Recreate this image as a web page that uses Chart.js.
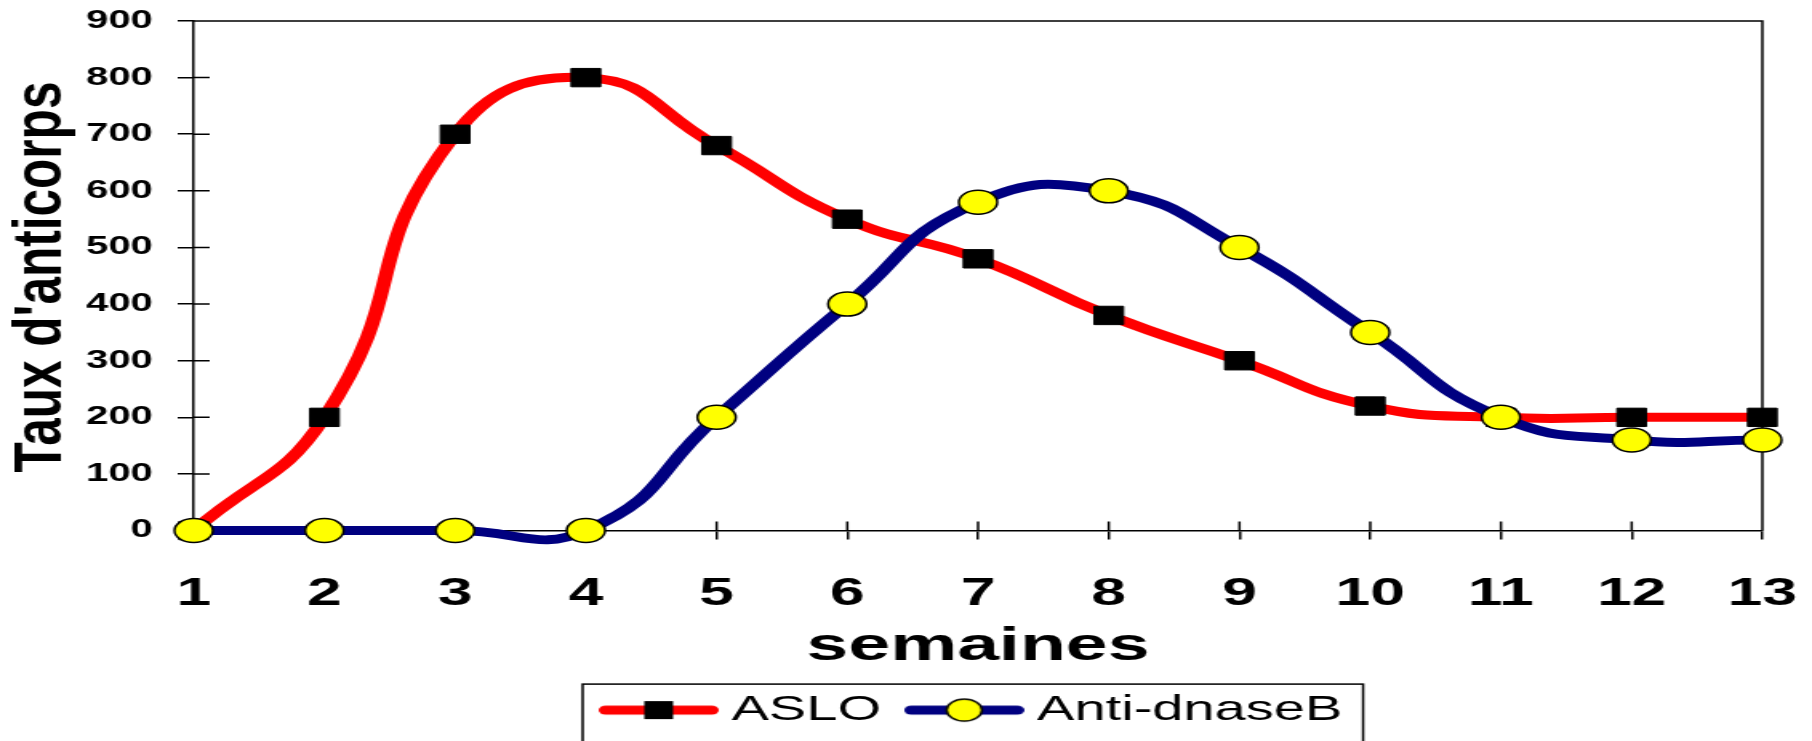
<!DOCTYPE html>
<html>
<head>
<meta charset="utf-8">
<script src="https://cdn.jsdelivr.net/npm/chart.js@4.4.0/dist/chart.umd.min.js"></script>
<style>
  html, body { margin: 0; padding: 0; background: #fff; }
</style>
</head>
<body>
<!-- the original picture is stretched sideways, so the canvas is drawn narrow and widened by css -->
<canvas id="c" width="1132" height="741" style="display:block;width:1812px;height:741px"></canvas>
<script>
// weeks after infection
var semaines = ["1", "2", "3", "4", "5", "6", "7", "8", "9", "10", "11", "12", "13"];
// antibody levels
var aslo = [0, 200, 700, 800, 680, 550, 480, 380, 300, 220, 200, 200, 200];
var antiDnaseB = [0, 0, 0, 0, 200, 400, 580, 600, 500, 350, 200, 160, 160];
var yTicks = [0, 100, 200, 300, 400, 500, 600, 700, 800, 900];

var FONT = '"Liberation Sans", Arial, sans-serif';

// small line + marker picture for the legend
function legendIcon(color, marker) {
  var cv = document.createElement("canvas");
  cv.width = 75;
  cv.height = 26;
  var g = cv.getContext("2d");
  g.strokeStyle = color;
  g.lineWidth = 9;
  g.lineCap = "round";
  g.beginPath();
  g.moveTo(4.5, 13);
  g.lineTo(70.5, 13);
  g.stroke();
  if (marker === "rect") {
    g.fillStyle = "#000";
    g.fillRect(28.5, 4, 18, 18);
  } else {
    g.fillStyle = "#ffff00";
    g.strokeStyle = "#000";
    g.lineWidth = 1.5;
    g.beginPath();
    g.arc(37.5, 13, 11, 0, Math.PI * 2);
    g.fill();
    g.stroke();
  }
  return cv;
}

var decor = {
  id: "decor",
  beforeDatasetsDraw: function (chart) {
    var ctx = chart.ctx, a = chart.chartArea;
    var xs = chart.scales.x, ys = chart.scales.y;
    ctx.save();
    ctx.strokeStyle = "#000";
    ctx.lineWidth = 1.5;
    ctx.beginPath();
    // top and right frame
    ctx.moveTo(a.left, a.top);
    ctx.lineTo(a.right, a.top);
    ctx.lineTo(a.right, a.bottom);
    // tick marks cross the axes, draw the inner half
    for (var i = 0; i < xs.ticks.length; i++) {
      var px = xs.getPixelForTick(i);
      ctx.moveTo(px, a.bottom);
      ctx.lineTo(px, a.bottom - 9);
    }
    for (var j = 0; j < ys.ticks.length; j++) {
      var py = ys.getPixelForTick(j);
      ctx.moveTo(a.left, py);
      ctx.lineTo(a.left + 10, py);
    }
    ctx.stroke();
    ctx.restore();
  },
  afterDraw: function (chart) {
    var ctx = chart.ctx;
    // y axis title
    ctx.save();
    ctx.fillStyle = "#000";
    ctx.font = "bold 42px " + FONT;
    ctx.textAlign = "center";
    ctx.textBaseline = "middle";
    ctx.translate(26, 277);
    ctx.rotate(-Math.PI / 2);
    ctx.scale(1.18, 1);
    ctx.fillText("Taux d'anticorps", 0, 0);
    ctx.restore();

    // frame round the legend
    var hb = chart.legend.legendHitBoxes;
    if (hb && hb.length) {
      var last = hb[hb.length - 1];
      var left = hb[0].left + 28 - 37.5 - 10;
      var right = last.left + last.width + 13;
      var top = hb[0].top + 17.5 - 26;
      ctx.save();
      ctx.strokeStyle = "#000";
      ctx.lineWidth = 1.5;
      ctx.strokeRect(left, top, right - left, 80);
      ctx.restore();
    }
  }
};

var ctx = document.getElementById("c").getContext("2d");
var chart = new Chart(ctx, {
  type: "line",
  data: {
    labels: semaines,
    datasets: [{
      label: "ASLO",
      data: aslo,
      borderColor: "#ff0000",
      borderWidth: 9,
      borderCapStyle: "round",
      borderJoinStyle: "round",
      tension: 0.5,
      capBezierPoints: false,
      clip: false,
      pointStyle: "rect",
      pointRadius: 13,
      pointBackgroundColor: "#000",
      pointBorderColor: "#000",
      pointBorderWidth: 1,
      order: 1
    }, {
      label: "Anti-dnaseB",
      data: antiDnaseB,
      borderColor: "#000080",
      borderWidth: 9,
      borderCapStyle: "round",
      borderJoinStyle: "round",
      tension: 0.5,
      capBezierPoints: false,
      clip: false,
      pointStyle: "circle",
      pointRadius: 12,
      pointBackgroundColor: "#ffff00",
      pointBorderColor: "#000",
      pointBorderWidth: 1.5,
      order: 0
    }]
  },
  options: {
    responsive: false,
    devicePixelRatio: 1,
    animation: false,
    layout: { padding: { top: 21, right: 31, bottom: 3.4, left: 0 } },
    scales: {
      x: {
        offset: false,
        grid: { drawOnChartArea: false, drawTicks: true, tickLength: 9, color: "#000", lineWidth: 1.5 },
        border: { display: true, color: "#000", width: 1.5 },
        ticks: {
          color: "#000",
          font: { family: FONT, size: 39, weight: "bold" },
          padding: 31,
          maxRotation: 0,
          autoSkip: false
        },
        title: {
          display: true,
          text: "semaines",
          color: "#000",
          font: { family: FONT, size: 47, weight: "bold", lineHeight: 0.9 },
          padding: 0
        },
        afterFit: function (s) {
          s.height = 138;
          s.paddingLeft = 0;
          s.paddingRight = 0;
        }
      },
      y: {
        min: 0,
        max: 900,
        afterBuildTicks: function (s) {
          s.ticks = yTicks.map(function (v) { return { value: v }; });
        },
        grid: { drawOnChartArea: false, drawTicks: true, tickLength: 10, color: "#000", lineWidth: 1.5 },
        border: { display: true, color: "#000", width: 1.5 },
        ticks: {
          color: "#000",
          font: { family: FONT, size: 25, weight: "bold" },
          padding: 15.5
        },
        afterFit: function (s) {
          s.width = 121;
          s.paddingTop = 0;
          s.paddingBottom = 0;
        }
      }
    },
    plugins: {
      tooltip: { enabled: false },
      legend: {
        position: "bottom",
        fullSize: false,
        labels: {
          usePointStyle: true,
          pointStyleWidth: 56,
          padding: 24,
          color: "#000",
          font: { family: FONT, size: 35 },
          generateLabels: function (chart) {
            return chart.data.datasets.map(function (ds, i) {
              return {
                text: ds.label,
                pointStyle: legendIcon(ds.borderColor, ds.pointStyle),
                lineWidth: 0,
                hidden: false,
                datasetIndex: i
              };
            });
          }
        }
      }
    }
  },
  plugins: [decor]
});
</script>
</body>
</html>
